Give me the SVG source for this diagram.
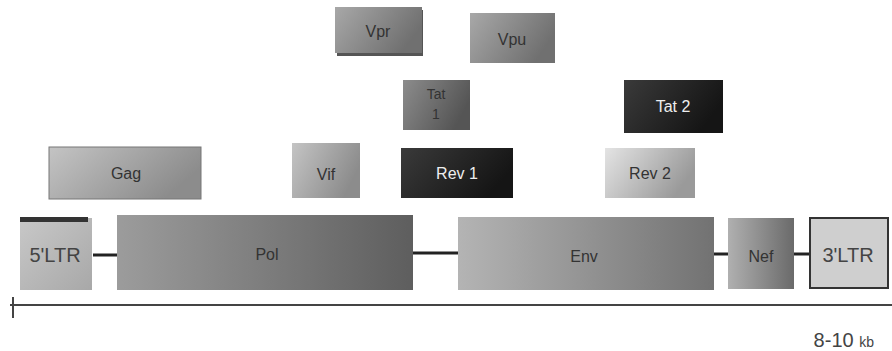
<svg xmlns="http://www.w3.org/2000/svg" width="892" height="351" viewBox="0 0 892 351">
<style>
text{font-family:"Liberation Sans",Arial,sans-serif;text-anchor:middle}
.lbl{font-size:16px;fill:#333}
.lbl-w{font-size:16px;fill:#eee}
.big{font-size:20px;fill:#444}
.conn{stroke:#222;stroke-width:3}
</style>
<defs>
<linearGradient id="gMid" x1="0" y1="0" x2="1" y2="0.4"><stop offset="0" stop-color="#a8a8a8"/><stop offset="1" stop-color="#707070"/></linearGradient>
<linearGradient id="gLight" x1="0" y1="0" x2="1" y2="0.4"><stop offset="0" stop-color="#c4c4c4"/><stop offset="1" stop-color="#8c8c8c"/></linearGradient>
<linearGradient id="gPale" x1="0" y1="0" x2="1" y2="0.4"><stop offset="0" stop-color="#e4e4e4"/><stop offset="1" stop-color="#9a9a9a"/></linearGradient>
<linearGradient id="gDark" x1="0" y1="0" x2="1" y2="0.4"><stop offset="0" stop-color="#3a3a3a"/><stop offset="1" stop-color="#151515"/></linearGradient>
<linearGradient id="gTat1" x1="0" y1="0" x2="1" y2="0.4"><stop offset="0" stop-color="#8c8c8c"/><stop offset="1" stop-color="#555"/></linearGradient>
<linearGradient id="gPol" x1="0" y1="0" x2="1" y2="0"><stop offset="0" stop-color="#9c9c9c"/><stop offset="1" stop-color="#5e5e5e"/></linearGradient>
<linearGradient id="gEnv" x1="0" y1="0" x2="1" y2="0"><stop offset="0" stop-color="#b4b4b4"/><stop offset="1" stop-color="#727272"/></linearGradient>
<linearGradient id="gNef" x1="0" y1="0" x2="1" y2="0"><stop offset="0" stop-color="#b0b0b0"/><stop offset="1" stop-color="#6a6a6a"/></linearGradient>
<linearGradient id="gLTR" x1="0" y1="0" x2="1" y2="1"><stop offset="0" stop-color="#c8c8c8"/><stop offset="1" stop-color="#a8a8a8"/></linearGradient>
</defs>

<g id="connectors">
<line class="conn" x1="93" y1="255" x2="117" y2="255"/>
<line class="conn" x1="402" y1="253" x2="458" y2="253"/>
<line class="conn" x1="714" y1="254" x2="728" y2="254"/>
<line class="conn" x1="794" y1="254" x2="809" y2="254"/>
</g>

<g id="vpr">
<rect x="337" y="10" width="86" height="46" fill="#555"/>
<rect x="335" y="7" width="87" height="46" fill="url(#gMid)"/>
<text class="lbl" x="378" y="37">Vpr</text>
</g>
<g id="vpu">
<rect x="470" y="13" width="85" height="50" fill="url(#gMid)"/>
<text class="lbl" x="512" y="45">Vpu</text>
</g>
<g id="tat1">
<rect x="403" y="80" width="67" height="50" fill="url(#gTat1)"/>
<text class="lbl" x="436" y="99" style="font-size:14px">Tat</text>
<text class="lbl" x="436" y="119" style="font-size:14px">1</text>
</g>
<g id="tat2">
<rect x="624" y="80" width="99" height="53" fill="url(#gDark)"/>
<text class="lbl-w" x="673" y="112">Tat 2</text>
</g>
<g id="gag">
<rect x="49" y="147" width="152" height="52" fill="url(#gLight)" stroke="#777" stroke-width="1"/>
<text class="lbl" x="126" y="179">Gag</text>
</g>
<g id="vif">
<rect x="292" y="143" width="68" height="55" fill="url(#gLight)"/>
<text class="lbl" x="326" y="180">Vif</text>
</g>
<g id="rev1">
<rect x="401" y="148" width="112" height="50" fill="url(#gDark)"/>
<text class="lbl-w" x="457" y="179">Rev 1</text>
</g>
<g id="rev2">
<rect x="605" y="148" width="90" height="50" fill="url(#gPale)"/>
<text class="lbl" x="650" y="179">Rev 2</text>
</g>

<g id="ltr5">
<rect x="20" y="218" width="72" height="72" fill="url(#gLTR)"/>
<rect x="20" y="217" width="68" height="5" fill="#333"/>
<text class="big" x="55" y="262">5'LTR</text>
</g>
<g id="pol">
<rect x="117" y="215" width="296" height="75" fill="url(#gPol)"/>
<text class="lbl" x="267" y="260">Pol</text>
</g>
<g id="env">
<rect x="458" y="217" width="256" height="73" fill="url(#gEnv)"/>
<text class="lbl" x="584" y="262">Env</text>
</g>
<g id="nef">
<rect x="728" y="218" width="66" height="71" fill="url(#gNef)"/>
<text class="lbl" x="761" y="262">Nef</text>
</g>
<g id="ltr3">
<rect x="810" y="218" width="78" height="70" fill="#cfcfcf" stroke="#333" stroke-width="2"/>
<text class="big" x="848" y="262">3'LTR</text>
</g>

<g id="axis">
<line x1="10" y1="305" x2="892" y2="305" stroke="#444" stroke-width="2"/>
<line x1="13" y1="297" x2="13" y2="318" stroke="#444" stroke-width="2"/>
<text x="874" y="347" style="font-size:20px;fill:#444;text-anchor:end">8-10 <tspan style="font-size:14px">kb</tspan></text>
</g>
</svg>
